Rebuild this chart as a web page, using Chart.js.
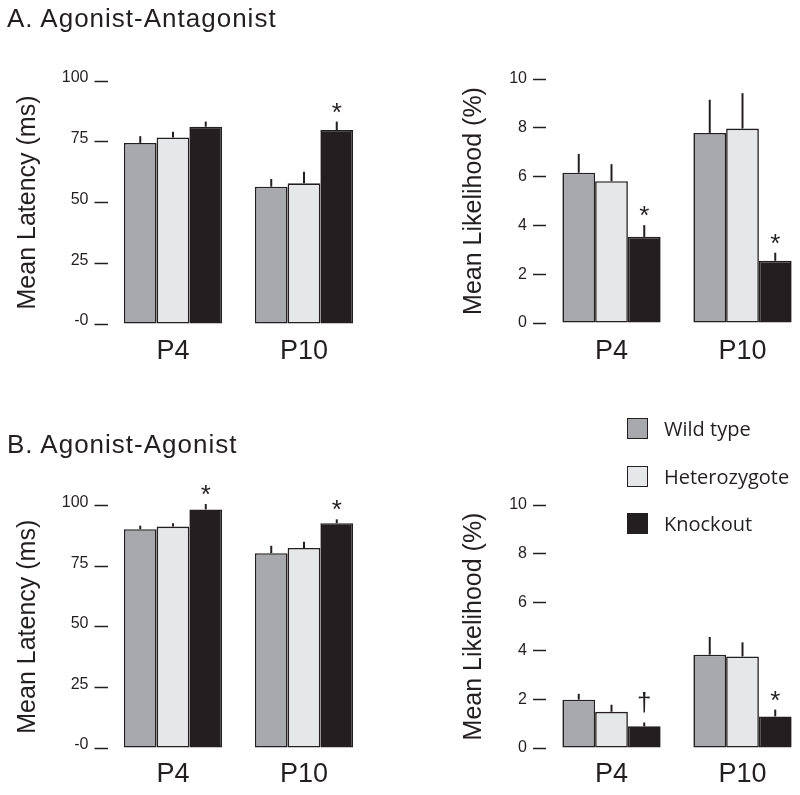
<!DOCTYPE html>
<html>
<head>
<meta charset="utf-8">
<title>Agonist latency and likelihood</title>
<script src="https://cdn.jsdelivr.net/npm/chart.js@4.4.1/dist/chart.umd.min.js"></script>
<style>
  html, body { margin: 0; padding: 0; background: #fff; overflow: hidden; }
  #page { position: relative; width: 800px; height: 795px; overflow: hidden; }
  canvas { position: absolute; }
  .panel-title {
    position: absolute; left: 7px; margin: 0;
    font: 26px 'Liberation Sans', Arial, sans-serif; line-height: 26px;
    letter-spacing: 1px; color: #231f20; white-space: nowrap; font-weight: normal;
  }
  .key { position: absolute; left: 627px; height: 21px; display: flex; align-items: center; }
  .key span.box { width: 21px; height: 21px; box-sizing: border-box; border: 1.5px solid #231f20; }
  .key span.name {
    margin-left: 16px; font: 20px 'Open Sans', sans-serif; line-height: 21px;
    color: #231f20; white-space: nowrap;
  }
</style>
</head>
<body>
<div id="page">
  <canvas id="aLatency" width="400" height="374" style="left:0;top:0"></canvas>
  <canvas id="aLikelihood" width="410" height="373" style="left:400px;top:0"></canvas>
  <canvas id="bLatency" width="400" height="398" style="left:0;top:400px"></canvas>
  <canvas id="bLikelihood" width="410" height="398" style="left:400px;top:400px"></canvas>

  <h2 class="panel-title" style="top:5px">A. Agonist-Antagonist</h2>
  <h2 class="panel-title" style="top:431px">B. Agonist-Agonist</h2>

  <div id="legend"></div>
</div>

<script>
// categories and series
const groups = ['P4', 'P10'];
const genotypes = ['Wild type', 'Heterozygote', 'Knockout'];
const fills = ['#a7a9ac', '#e6e7e8', '#231f20'];
const ink = '#231f20';

// tick labels (the latency axis really reads "-0" at the bottom)
const latencyTicks = ['-0', '25', '50', '75', '100'];
const likelihoodTicks = ['0', '2', '4', '6', '8', '10'];

// A. Agonist-Antagonist - mean latency (ms), P4 / P10
const aLatWild = [74.5, 56.5];
const aLatHet = [76.8, 57.9];
const aLatKo = [81.2, 79.8];
const aLatWildErr = [2.8, 3.2];
const aLatHetErr = [2.3, 4.8];
const aLatKoErr = [2.1, 3.5];
const aLatKoMarks = ['', '*'];

// A. Agonist-Antagonist - mean likelihood (%)
const aLikWild = [6.16, 7.79];
const aLikHet = [5.81, 7.97];
const aLikKo = [3.53, 2.55];
const aLikWildErr = [0.77, 1.36];
const aLikHetErr = [0.70, 1.45];
const aLikKoErr = [0.48, 0.33];
const aLikKoMarks = ['*', '*'];

// B. Agonist-Agonist - mean latency (ms)
const bLatWild = [90.2, 80.3];
const bLatHet = [91.3, 82.5];
const bLatKo = [98.4, 92.7];
const bLatWildErr = [1.5, 3.1];
const bLatHetErr = [1.4, 2.6];
const bLatKoErr = [2.2, 1.6];
const bLatKoMarks = ['*', '*'];

// B. Agonist-Agonist - mean likelihood (%)
const bLikWild = [1.99, 3.84];
const bLikHet = [1.49, 3.77];
const bLikKo = [0.89, 1.30];
const bLikWildErr = [0.24, 0.73];
const bLikHetErr = [0.29, 0.58];
const bLikKoErr = [0.16, 0.28];
const bLikKoMarks = ['\u2020', '*'];

// draws the upward error line on each bar plus the significance mark above it
const errorBars = {
  id: 'errorBars',
  afterDatasetsDraw(chart) {
    const ctx = chart.ctx;
    const yScale = chart.scales.y;
    ctx.save();
    chart.data.datasets.forEach((ds, i) => {
      chart.getDatasetMeta(i).data.forEach((bar, j) => {
        const top = yScale.getPixelForValue(ds.data[j] + ds.errors[j]);
        ctx.strokeStyle = ink;
        ctx.lineWidth = 2;
        ctx.beginPath();
        ctx.moveTo(bar.x, bar.y);
        ctx.lineTo(bar.x, top);
        ctx.stroke();
        const mark = ds.marks ? ds.marks[j] : '';
        if (mark) {
          ctx.font = "26px 'Liberation Sans', Arial, sans-serif";
          ctx.fillStyle = ink;
          ctx.textAlign = 'center';
          ctx.textBaseline = 'alphabetic';
          const m = ctx.measureText(mark);
          ctx.fillText(mark, bar.x, top - 9 - m.actualBoundingBoxDescent);
        }
      });
    });
    ctx.restore();
  }
};

function drawPanel(id, series, errors, marks, axis) {
  const datasets = series.map((values, i) => ({
    label: genotypes[i],
    data: values,
    errors: errors[i],
    marks: i === 2 ? marks : null,
    backgroundColor: fills[i],
    borderColor: ink,
    borderWidth: 1.6,
    borderSkipped: false,
    categoryPercentage: 0.75,
    barPercentage: 1.0
  }));

  return new Chart(document.getElementById(id), {
    type: 'bar',
    data: { labels: groups, datasets: datasets },
    options: {
      responsive: false,
      animation: false,
      layout: { padding: axis.padding },
      plugins: { legend: { display: false }, tooltip: { enabled: false } },
      scales: {
        x: {
          offset: true,
          grid: { display: false, drawTicks: false },
          border: { display: false },
          ticks: {
            padding: axis.xPad,
            color: ink,
            font: { family: "'Liberation Sans', Arial, sans-serif", size: 27 }
          },
          afterFit(scale) { scale.height = 50; }
        },
        y: {
          min: 0,
          max: axis.max,
          border: { display: false },
          grid: {
            drawOnChartArea: false,
            drawTicks: true,
            tickLength: 13,
            tickWidth: 1.5,
            tickColor: ink
          },
          ticks: {
            stepSize: axis.step,
            padding: 6,
            labelOffset: axis.labelOffset,
            color: ink,
            font: { family: "'Liberation Sans', Arial, sans-serif", size: 16 },
            callback: (value, index) => axis.ticks[index]
          },
          title: {
            display: true,
            text: axis.title,
            color: ink,
            padding: { top: 13, bottom: 0 },
            font: { family: "'Liberation Sans', Arial, sans-serif", size: 25, weight: 'normal' }
          },
          afterFit(scale) { scale.width = axis.yWidth; }
        }
      }
    },
    plugins: [errorBars]
  });
}

drawPanel('aLatency',
  [aLatWild, aLatHet, aLatKo], [aLatWildErr, aLatHetErr, aLatKoErr], aLatKoMarks,
  { title: 'Mean Latency (ms)', ticks: latencyTicks, max: 100, step: 25, labelOffset: -3,
    yWidth: 107.5, xPad: 11, padding: { left: 0, top: 81, right: 30.5, bottom: 0 } });

drawPanel('aLikelihood',
  [aLikWild, aLikHet, aLikKo], [aLikWildErr, aLikHetErr, aLikKoErr], aLikKoMarks,
  { title: 'Mean Likelihood (%)', ticks: likelihoodTicks, max: 10, step: 2, labelOffset: 0,
    yWidth: 100, xPad: 12, padding: { left: 46, top: 79, right: 2, bottom: 0 } });

drawPanel('bLatency',
  [bLatWild, bLatHet, bLatKo], [bLatWildErr, bLatHetErr, bLatKoErr], bLatKoMarks,
  { title: 'Mean Latency (ms)', ticks: latencyTicks, max: 100, step: 25, labelOffset: -3,
    yWidth: 107.5, xPad: 10, padding: { left: 0, top: 105.5, right: 30.5, bottom: 0 } });

drawPanel('bLikelihood',
  [bLikWild, bLikHet, bLikKo], [bLikWildErr, bLikHetErr, bLikKoErr], bLikKoMarks,
  { title: 'Mean Likelihood (%)', ticks: likelihoodTicks, max: 10, step: 2, labelOffset: 0,
    yWidth: 100, xPad: 10, padding: { left: 46, top: 105, right: 2, bottom: 0 } });

// shared key for the genotypes
const legendTops = [418, 466, 513];
document.getElementById('legend').innerHTML = genotypes.map((name, i) => /*html*/ `
  <div class="key" style="top:${legendTops[i]}px">
    <span class="box" style="background:${fills[i]}"></span>
    <span class="name">${name}</span>
  </div>`).join('');
</script>
</body>
</html>
